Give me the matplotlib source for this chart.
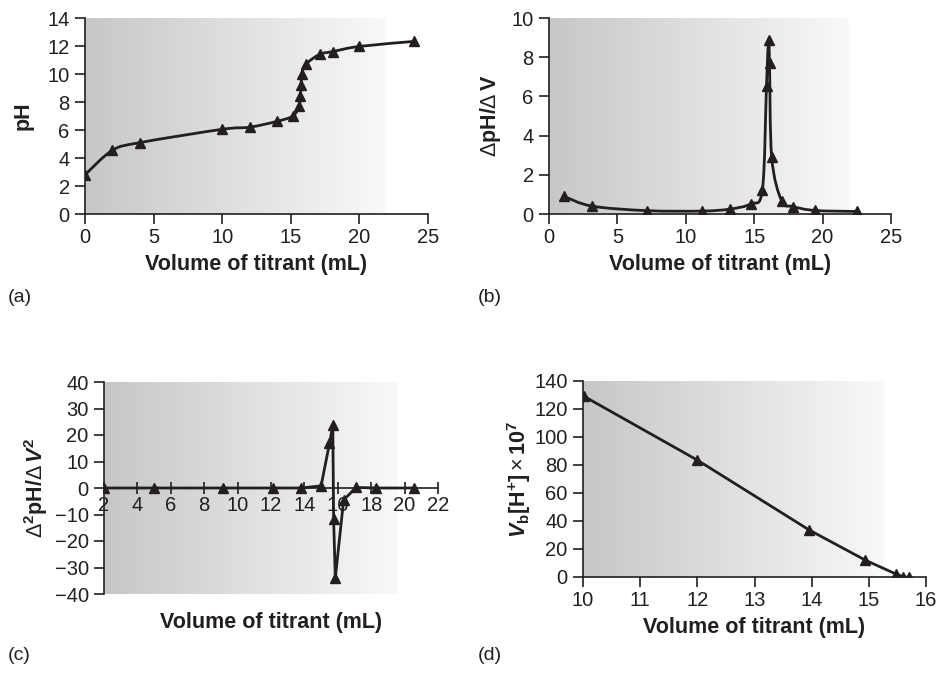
import numpy as np
import matplotlib
matplotlib.use("Agg")
import matplotlib.pyplot as plt
from matplotlib.path import Path
from matplotlib.patches import PathPatch
from matplotlib.colors import LinearSegmentedColormap

plt.rcParams['font.family'] = ['Liberation Sans', 'DejaVu Sans']
plt.rcParams['mathtext.fontset'] = 'custom'
plt.rcParams['mathtext.rm'] = 'Liberation Sans'
plt.rcParams['mathtext.bf'] = 'Liberation Sans:bold'
plt.rcParams['mathtext.it'] = 'Liberation Sans:italic'
plt.rcParams['mathtext.bfit'] = 'Liberation Sans:bold:italic'

INK = '#231f20'

# ---------------- data ----------------
# (a) titration curve
vol_a = [0, 2, 4, 10, 12, 14, 15.15, 15.6, 15.7, 15.75, 15.8, 16.1, 17.1, 18.05, 20.0, 24.0]
ph_a = [2.8, 4.55, 5.1, 6.05, 6.2, 6.62, 7.0, 7.7, 8.45, 9.2, 10.0, 10.7, 11.4, 11.6, 11.97, 12.33]

# (b) first derivative
vol_b = [1.1, 3.15, 7.2, 11.2, 13.2, 14.75, 15.6, 15.9, 16.05, 16.12, 16.28, 17.0, 17.85, 19.45, 22.5]
dph_b = [0.9, 0.4, 0.17, 0.15, 0.25, 0.52, 1.25, 6.55, 8.9, 7.7, 2.9, 0.68, 0.38, 0.18, 0.13]

# (c) second derivative
vol_c = [2.0, 5.0, 9.1, 12.1, 13.8, 15.0, 15.5, 15.7, 15.75, 15.85, 16.35, 17.1, 18.3, 20.55]
d2ph_c = [0.0, 0.0, 0.0, 0.0, 0.0, 0.8, 16.8, 23.7, -11.8, -34.0, -4.5, 0.2, 0.0, 0.0]

# (d) Gran plot
vol_d = [10.02, 12.0, 13.96, 14.94, 15.47, 15.6, 15.7]
gran_d = [129, 83.5, 33.5, 12, 2.2, 0.2, -0.3]

# ---------------- helpers ----------------
FW, FH = 941, 675
fig = plt.figure(figsize=(FW / 100, FH / 100), dpi=100)


def make_axes(left, right, top, bottom):
    return fig.add_axes([left / FW, 1 - bottom / FH, (right - left) / FW, (bottom - top) / FH])


gray_cmap = LinearSegmentedColormap.from_list(
    'g', [(0.0, (0.78, 0.78, 0.78)), (0.875, (0.975, 0.975, 0.975)), (0.88, (1, 1, 1)), (1.0, (1, 1, 1))])


def background(ax):
    ax.set_facecolor('white')
    grad = np.linspace(0, 1, 512).reshape(1, -1)
    ax.imshow(grad, extent=(0, 1, 0, 1), transform=ax.transAxes, aspect='auto',
              cmap=gray_cmap, vmin=0, vmax=1, zorder=0, interpolation='bilinear')


def smooth_path(xs, ys):
    pts = np.column_stack([xs, ys]).astype(float)
    n = len(pts)
    verts = [pts[0]]
    codes = [Path.MOVETO]
    for i in range(n - 1):
        p0 = pts[i - 1] if i > 0 else pts[i]
        p1 = pts[i]
        p2 = pts[i + 1]
        p3 = pts[i + 2] if i + 2 < n else pts[i + 1]
        c1 = p1 + (p2 - p0) / 6.0
        c2 = p2 - (p3 - p1) / 6.0
        verts += [c1, c2, p2]
        codes += [Path.CURVE4] * 3
    return Path(verts, codes)


TICK_FS = 14.5


def style(ax):
    for s in ['top', 'right']:
        ax.spines[s].set_visible(False)
    for s in ['left', 'bottom']:
        ax.spines[s].set_color(INK)
        ax.spines[s].set_linewidth(1.2)
    ax.tick_params(colors=INK, labelsize=TICK_FS, width=1.2, direction='out', length=7)
    ax.tick_params(axis='y', pad=4)
    ax.tick_params(axis='x', pad=3)


LBL = dict(fontsize=15.5, fontweight='bold', color=INK)
MK = dict(marker='^', markersize=7.5, color=INK, linestyle='none', zorder=4)

# ---------------- (a) ----------------
ax = make_axes(85, 428, 18, 214)
background(ax)
ax.add_patch(PathPatch(smooth_path(vol_a, ph_a), fill=False, lw=2.0, edgecolor=INK, zorder=3))
ax.plot(vol_a, ph_a, **MK)
ax.set_xlim(0, 25)
ax.set_ylim(0, 14)
ax.set_xticks(range(0, 26, 5))
ax.set_yticks(range(0, 15, 2))
style(ax)
ax.set_xlabel('Volume of titrant (mL)', labelpad=5, **LBL)
ax.set_ylabel('pH', labelpad=10, **LBL)

# ---------------- (b) ----------------
ax = make_axes(549, 891, 18, 214)
background(ax)
ax.add_patch(PathPatch(smooth_path(vol_b, dph_b), fill=False, lw=2.0, edgecolor=INK, zorder=3))
ax.plot(vol_b, dph_b, **MK)
ax.set_xlim(0, 25)
ax.set_ylim(0, 10)
ax.set_xticks(range(0, 26, 5))
ax.set_yticks(range(0, 11, 2))
style(ax)
ax.set_xlabel('Volume of titrant (mL)', labelpad=5, **LBL)
ax.set_ylabel(r'$\Delta\mathbf{pH/}\Delta\,\mathbf{V}$', labelpad=6, fontsize=15.5, color=INK)

# ---------------- (c) ----------------
ax = make_axes(104, 438, 382, 594)
background(ax)
ax.plot(vol_c, d2ph_c, color=INK, lw=2.0, zorder=3)
ax.plot(vol_c, d2ph_c, **MK)
ax.set_xlim(2, 22)
ax.set_ylim(-40, 40)
ax.set_xticks(range(2, 23, 2))
ax.set_yticks(range(-40, 41, 10))
style(ax)
ax.spines['bottom'].set_position(('data', 0))
ax.tick_params(axis='x', direction='inout', length=9, pad=1)
ax.set_xlabel('Volume of titrant (mL)', **LBL)
ax.xaxis.set_label_coords(0.5, -0.085)
ax.set_yticklabels([('\u2212%d' % -v) if v < 0 else str(v) for v in range(-40, 41, 10)])
ax.set_ylabel(r'$\Delta^{\mathbf{2}}\mathbf{pH/}\Delta\,\mathbfit{V}^{\mathbf{2}}$',
              labelpad=3, fontsize=15.5, color=INK)

# ---------------- (d) ----------------
ax = make_axes(583, 926, 381, 577)
background(ax)
ax.plot(vol_d, gran_d, color=INK, lw=2.0, zorder=3)
ax.plot(vol_d, gran_d, **MK)
ax.set_xlim(10, 16)
ax.set_ylim(0, 140)
ax.set_xticks(range(10, 17, 1))
ax.set_yticks(range(0, 141, 20))
style(ax)
ax.set_xlabel('Volume of titrant (mL)', labelpad=5, **LBL)
ax.set_ylabel(r'$\mathbfit{V}_{\mathbf{b}}\mathbf{[H^{+}]}\times\mathbf{10^{7}}$',
              labelpad=1, fontsize=15.5, color=INK)

# panel letters
for txt, x, y in [('(a)', 8, 298), ('(b)', 478, 298), ('(c)', 8, 655), ('(d)', 478, 655)]:
    fig.text(x / FW, 1 - y / FH, txt, fontsize=14, color=INK, ha='left', va='center')

fig.savefig('out.png', dpi=100)
